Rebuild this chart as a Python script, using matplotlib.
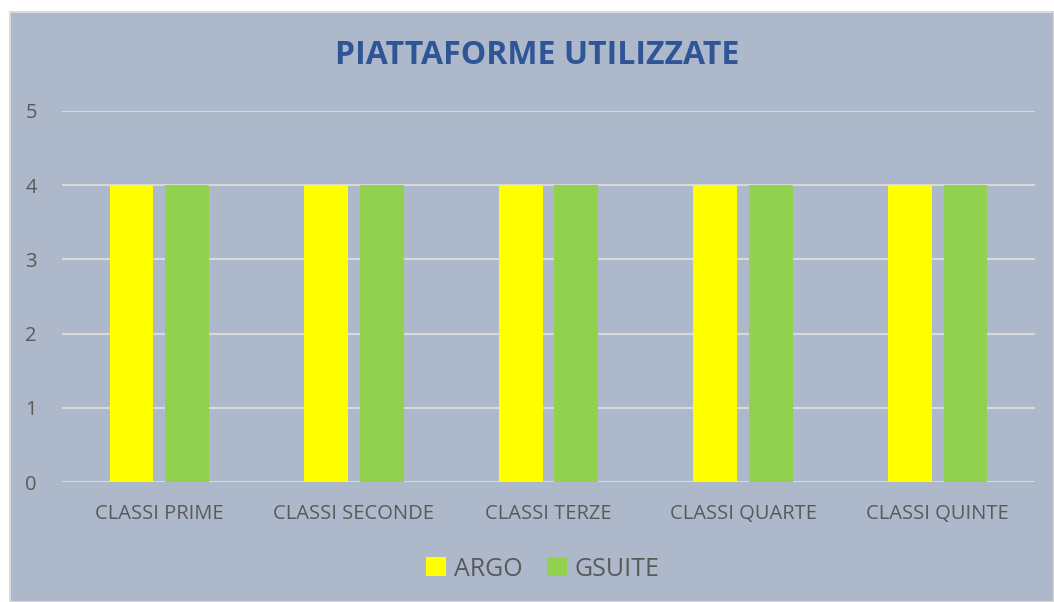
import matplotlib.pyplot as plt
import numpy as np
from matplotlib.patches import Rectangle

categories = ["CLASSI PRIME", "CLASSI SECONDE", "CLASSI TERZE", "CLASSI QUARTE", "CLASSI QUINTE"]
argo = [4, 4, 4, 4, 4]
gsuite = [4, 4, 4, 4, 4]
yticks = [0, 1, 2, 3, 4, 5]

W, H = 1054, 602
bg = "#ADB9CA"
grey_txt = "#595959"

plt.rcParams["font.family"] = ["Open Sans", "DejaVu Sans"]

fig = plt.figure(figsize=(W / 100, H / 100), dpi=100)
fig.patch.set_facecolor("white")

# chart box (starts a bit in from the top-left)
fig.patches.append(Rectangle((10 / W, 0), 1 - 10 / W, (H - 12) / H, transform=fig.transFigure,
                             facecolor=bg, edgecolor="#D9D9D9", linewidth=1.5, zorder=-5))

ax = fig.add_axes([62 / W, (H - 482) / H, (1035 - 62) / W, (482 - 111) / H])
ax.set_facecolor("none")

x = np.arange(len(categories))
bw = 0.225
gap = 0.06
ax.bar(x - (bw + gap) / 2, argo, bw, color="#FFFF00", label="ARGO", zorder=3)
ax.bar(x + (bw + gap) / 2, gsuite, bw, color="#92D050", label="GSUITE", zorder=3)

ax.set_xlim(-0.5, len(categories) - 0.5)
ax.set_ylim(0, 5)
ax.set_yticks(yticks)
ax.set_xticks(x)
ax.set_xticklabels(categories)
ax.grid(axis="y", color="#D9D9D9", linewidth=1.5, zorder=0)
for s in ax.spines.values():
    s.set_visible(False)
ax.tick_params(length=0, colors=grey_txt, labelsize=14.5)
ax.tick_params(axis="x", pad=16)
ax.tick_params(axis="y", pad=18)

fig.text(537 / W, 1 - 55 / H, "PIATTAFORME UTILIZZATE", ha="center", va="center",
         fontsize=23, fontweight="bold", color="#2F5597")

ax.legend(loc="center", bbox_to_anchor=(543 / W, 1 - 569 / H), bbox_transform=fig.transFigure,
          ncol=2, frameon=False, fontsize=18, labelcolor=grey_txt, handlelength=0.8,
          handleheight=0.8, handletextpad=0.3, columnspacing=1.0)

fig.savefig("out.png", dpi=100)
